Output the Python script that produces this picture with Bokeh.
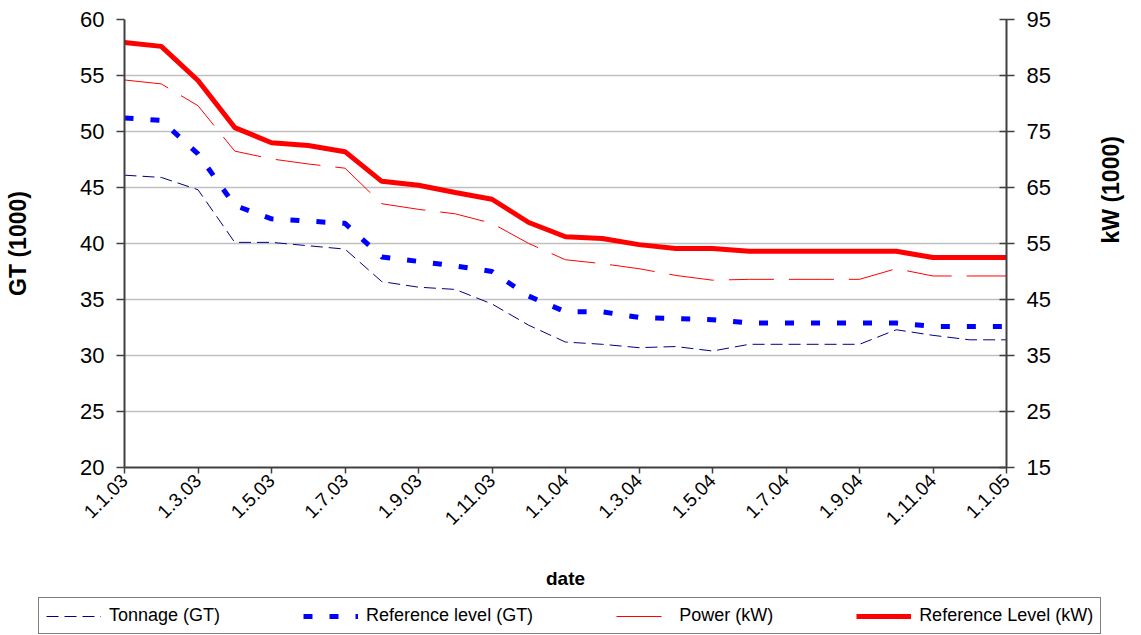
from math import pi
from bokeh.plotting import figure
from bokeh.models import Range1d, LinearAxis, FixedTicker, Legend, LegendItem
from bokeh.embed import file_html
from bokeh.resources import INLINE

months = ["1.1.03", "1.2.03", "1.3.03", "1.4.03", "1.5.03", "1.6.03", "1.7.03",
          "1.8.03", "1.9.03", "1.10.03", "1.11.03", "1.12.03", "1.1.04",
          "1.2.04", "1.3.04", "1.4.04", "1.5.04", "1.6.04", "1.7.04", "1.8.04",
          "1.9.04", "1.10.04", "1.11.04", "1.12.04", "1.1.05"]
tick_labels = ["1.1.03", "1.3.03", "1.5.03", "1.7.03", "1.9.03", "1.11.03", "1.1.04",
               "1.3.04", "1.5.04", "1.7.04", "1.9.04", "1.11.04", "1.1.05"]

tonnage_gt = [46.1, 45.9, 44.8, 40.1, 40.1, 39.8, 39.5, 36.6, 36.1, 35.9, 34.6, 32.7, 31.2,
              31.0, 30.7, 30.8, 30.4, 31.0, 31.0, 31.0, 31.0, 32.3, 31.8, 31.4, 31.4]
ref_gt = [51.2, 51.0, 48.0, 43.4, 42.2, 42.0, 41.8, 38.8, 38.4, 38.0, 37.5, 35.3, 33.9,
          33.9, 33.4, 33.3, 33.2, 32.9, 32.9, 32.9, 32.9, 32.9, 32.6, 32.6, 32.6]
power_kw = [84.2, 83.5, 79.6, 71.5, 70.1, 69.2, 68.45, 62.1, 61.1, 60.3, 58.6, 55.0, 52.1,
            51.4, 50.5, 49.3, 48.45, 48.6, 48.6, 48.6, 48.6, 50.5, 49.2, 49.2, 49.2]
ref_kw = [90.9, 90.2, 84.1, 75.7, 73.0, 72.5, 71.4, 66.1, 65.4, 64.1, 62.9, 58.75, 56.2,
          55.9, 54.8, 54.1, 54.1, 53.6, 53.6, 53.6, 53.6, 53.6, 52.5, 52.5, 52.5]

series_names = ["Tonnage (GT)", "Reference level (GT)", "Power (kW)", "Reference Level (kW)"]

FONT = "Liberation Sans"
xs = list(range(len(months)))

styles = [
    dict(line_color="#000080", line_width=1, line_dash="12 6"),
    dict(line_color="#0000ff", line_width=5, line_dash="9 17"),
    dict(line_color="#ff0000", line_width=1, line_dash="45 15"),
    dict(line_color="#ff0000", line_width=5),
]

p = figure(width=1140, height=597, output_backend="svg", toolbar_location=None,
           x_range=Range1d(0, len(months) - 1), y_range=Range1d(20, 60),
           min_border_left=124, min_border_right=134, min_border_top=19,
           min_border_bottom=130)
p.extra_y_ranges = {"kw": Range1d(15, 95)}
p.outline_line_color = None

xa = p.xaxis[0]
xa.ticker = FixedTicker(ticks=[months.index(t) for t in tick_labels])
xa.major_label_overrides = {months.index(t): t for t in tick_labels}
xa.major_label_orientation = pi / 4
xa.axis_label = "date"

ya = p.yaxis[0]
ya.ticker = FixedTicker(ticks=list(range(20, 61, 5)))
ya.axis_label = "GT (1000)"

ra = LinearAxis(y_range_name="kw", ticker=FixedTicker(ticks=list(range(15, 96, 10))),
                axis_label="kW (1000)")
p.add_layout(ra, "right")
if "axis_label_orientation" in LinearAxis.properties():
    ra.axis_label_orientation = pi / 2

for ax in (xa, ya, ra):
    ax.axis_line_color = "#404040"
    ax.axis_line_width = 2
    ax.major_tick_line_color = "#404040"
    ax.major_tick_line_width = 1.5
    ax.minor_tick_line_color = None
    ax.major_label_text_font = FONT
    ax.major_label_text_color = "black"
    ax.axis_label_text_font = FONT
    ax.axis_label_text_font_style = "bold"
    ax.axis_label_text_color = "black"

xa.major_tick_in = 0
xa.major_tick_out = 6
xa.major_label_text_font_size = "19px"
xa.major_label_standoff = 4
xa.axis_label_text_font_size = "19px"
xa.axis_label_standoff = 34

ya.major_tick_in = 0
ya.major_tick_out = 8
ya.major_label_text_font_size = "22px"
ya.major_label_standoff = 12
ya.axis_label_text_font_size = "23px"
ya.axis_label_standoff = 46

ra.major_tick_in = 7
ra.major_tick_out = 8
ra.major_label_text_font_size = "22px"
ra.major_label_standoff = 12
ra.axis_label_text_font_size = "23px"
ra.axis_label_standoff = 57

p.xgrid.grid_line_color = None
p.ygrid.grid_line_color = "#c0c0c0"
p.ygrid.grid_line_width = 1.5

p.line(xs, tonnage_gt, **styles[0])
p.line(xs, ref_gt, **styles[1])
p.extra_y_ranges["kw"]
p.line(xs, power_kw, y_range_name="kw", **styles[2])
p.line(xs, ref_kw, y_range_name="kw", **styles[3])

# legend strip, rendered as its own root below the chart
lg = figure(width=1140, height=38, output_backend="svg", toolbar_location=None,
            x_range=Range1d(0, 1), y_range=Range1d(0, 1), x_axis_type=None,
            y_axis_type=None, min_border=0)
lg.outline_line_color = None
lg.xgrid.visible = False
lg.ygrid.visible = False
lrs = [lg.line([5, 6], [5, 5], **st) for st in styles]
legend = Legend(items=[LegendItem(label=n, renderers=[r]) for n, r in zip(series_names, lrs)],
                orientation="horizontal", location=(38, 1), glyph_width=55,
                glyph_height=18, label_height=18, label_standoff=8, spacing=83,
                padding=7, margin=0, border_line_color="black", border_line_width=1.2,
                label_text_font=FONT, label_text_font_size="18px",
                label_text_color="black", background_fill_color="white",
                background_fill_alpha=1.0)
lg.add_layout(legend, "center")

open("out.html", "w").write(file_html([p, lg], INLINE))
